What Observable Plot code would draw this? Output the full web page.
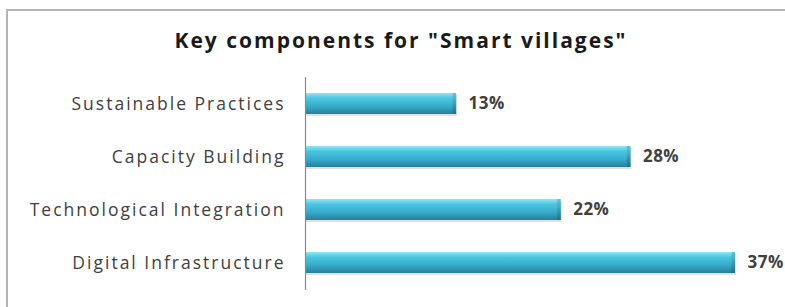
<!DOCTYPE html>
<html>
<head>
<meta charset="utf-8">
<script src="https://cdn.jsdelivr.net/npm/d3@7"></script>
<script src="https://cdn.jsdelivr.net/npm/@observablehq/plot@0.6"></script>
<style>
  html, body { margin: 0; background: #fff; overflow: hidden; }
  #wrap { position: relative; width: 785px; height: 307px; overflow: hidden; font-family: "Open Sans", Lato, sans-serif; }
  #frame { position: absolute; left: 6px; top: 9px; width: 900px; height: 400px; border-top: 2px solid #b4b4b4; border-left: 2px solid #b4b4b4; box-sizing: border-box; }
  #title { position: absolute; top: 26px; left: 0; width: 802px; text-align: center; font-size: 21px; letter-spacing: 2px; font-weight: bold; color: #1a1a1a; }
  #chart { position: absolute; left: 0; top: 0; }
  #chart svg g[aria-label="y-axis tick label"] text { letter-spacing: 2px; }
  #chart svg g[aria-label="text"] text { letter-spacing: 0.5px; }
</style>
</head>
<body>
<div id="wrap">
  <div id="frame"></div>
  <div id="title">Key components for "Smart villages"</div>
  <div id="chart"></div>
</div>
<script>
const categories = ["Sustainable Practices", "Capacity Building", "Technological Integration", "Digital Infrastructure"];
const values = [13, 28, 22, 37];
const valueLabels = ["13%", "28%", "22%", "37%"];

const data = categories.map((c, i) => ({category: c, value: values[i], label: valueLabels[i]}));

const defs = () => {
  const d = d3.create("svg:defs");
  const g = d.append("linearGradient").attr("id", "barGrad").attr("x1", 0).attr("y1", 0).attr("x2", 0).attr("y2", 1);
  g.append("stop").attr("offset", "0%").attr("stop-color", "#8ee6f5");
  g.append("stop").attr("offset", "25%").attr("stop-color", "#4cc6e0");
  g.append("stop").attr("offset", "65%").attr("stop-color", "#35a9c8");
  g.append("stop").attr("offset", "100%").attr("stop-color", "#277f9c");
  const c = d.append("linearGradient").attr("id", "capGrad").attr("x1", 0).attr("y1", 0).attr("x2", 0).attr("y2", 1);
  c.append("stop").attr("offset", "0%").attr("stop-color", "#5cc9de");
  c.append("stop").attr("offset", "100%").attr("stop-color", "#1f6f8a");
  return d.node();
};

const chart = Plot.plot({
  width: 785,
  height: 307,
  marginTop: 77,
  marginBottom: 17,
  marginLeft: 305,
  marginRight: 50,
  style: {fontFamily: "'Open Sans', Lato, sans-serif", background: "transparent", overflow: "visible"},
  x: {domain: [0, 37], axis: null},
  y: {domain: categories, paddingInner: 0.6, paddingOuter: 0.3, label: null},
  marks: [
    defs,
    Plot.barX(data, {y: "category", x: "value", fill: "#9a9a9a", fillOpacity: 0.3, dy: 2, dx: 1}),
    Plot.barX(data, {y: "category", x: "value", fill: "url(#barGrad)"}),
    Plot.rectX(data, {y: "category", x1: d => d.value - 0.3, x2: "value", fill: "url(#capGrad)"}),
    Plot.axisY({tickSize: 0, tickPadding: 20, fontSize: 17.5, color: "#404040", label: null}),
    Plot.ruleX([0], {stroke: "#8a8a8a", strokeWidth: 1.2}),
    Plot.text(data, {y: "category", x: "value", text: "label", dx: 12, textAnchor: "start", fontSize: 17, fontWeight: "bold", fill: "#404040"})
  ]
});
document.getElementById("chart").appendChild(chart);
</script>
</body>
</html>
